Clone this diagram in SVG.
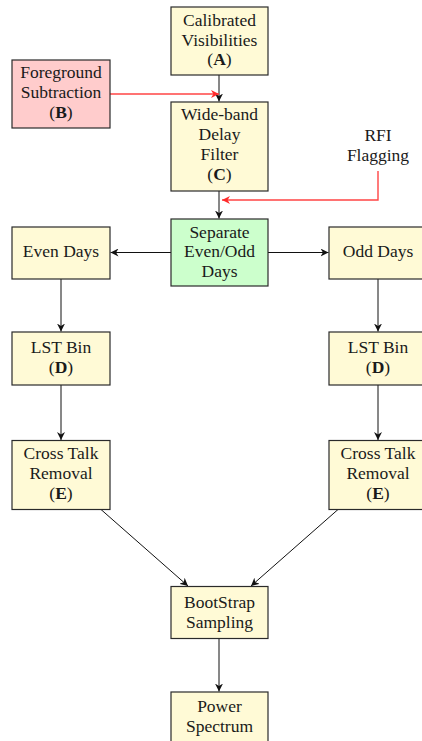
<svg xmlns="http://www.w3.org/2000/svg" width="422" height="741" viewBox="0 0 422 741" font-family="'Liberation Serif', 'DejaVu Serif', serif">
<defs>
<marker id="ah" viewBox="0 0 10 10" refX="10" refY="5" markerWidth="8" markerHeight="8" markerUnits="userSpaceOnUse" orient="auto">
<path d="M0,0 L10,5 L0,10 L3,5 Z" fill="#111"/>
</marker>
<marker id="ahr" viewBox="0 0 10 10" refX="10" refY="5" markerWidth="8" markerHeight="8" markerUnits="userSpaceOnUse" orient="auto">
<path d="M0,0 L10,5 L0,10 L3,5 Z" fill="#ff2a2a"/>
</marker>
</defs>
<style>
rect{stroke:#2a2a2a;stroke-width:1.2}
.y{fill:#fffad6}
.p{fill:#ffcccc}
.g{fill:#ccffcc}
text{font-family:'Liberation Serif','DejaVu Serif',serif;font-size:17.5px;fill:#1a1a1a;text-anchor:middle}
.b{font-weight:bold}
.k{fill:none;stroke:#111;stroke-width:1}
.r{fill:none;stroke:#ff4444;stroke-width:1.4}
</style>
<g id="connectors">
<path class="k" d="M219,75 V101.5" marker-end="url(#ah)"/>
<path class="r" d="M110,94 H219" marker-end="url(#ahr)"/>
<path class="k" d="M219,191 V218.5" marker-end="url(#ah)"/>
<path class="r" d="M378,171 V200 H222" marker-end="url(#ahr)"/>
<path class="k" d="M171,252.5 H110.5" marker-end="url(#ah)"/>
<path class="k" d="M268,252.5 H328.5" marker-end="url(#ah)"/>
<path class="k" d="M61,279 V331.5" marker-end="url(#ah)"/>
<path class="k" d="M378,279 V331.5" marker-end="url(#ah)"/>
<path class="k" d="M61,385 V440" marker-end="url(#ah)"/>
<path class="k" d="M378,385 V440" marker-end="url(#ah)"/>
<path class="k" d="M101,509.5 L188,586" marker-end="url(#ah)"/>
<path class="k" d="M338,509.5 L251,586" marker-end="url(#ah)"/>
<path class="k" d="M219,638.5 V691.5" marker-end="url(#ah)"/>
</g>
<g id="nodeA">
<rect class="y" x="171" y="7" width="97" height="68"/>
<text x="219.5" y="26">Calibrated</text>
<text x="219.5" y="45.5">Visibilities</text>
<text x="219.5" y="65">(<tspan class="b">A</tspan>)</text>
</g>
<g id="nodeB">
<rect class="p" x="12" y="60" width="98" height="68"/>
<text x="61" y="78">Foreground</text>
<text x="61" y="98">Subtraction</text>
<text x="61" y="118">(<tspan class="b">B</tspan>)</text>
</g>
<g id="nodeC">
<rect class="y" x="171" y="102" width="97" height="89"/>
<text x="219.5" y="120">Wide-band</text>
<text x="219.5" y="140">Delay</text>
<text x="219.5" y="160">Filter</text>
<text x="219.5" y="180">(<tspan class="b">C</tspan>)</text>
</g>
<g id="rfi">
<text x="378" y="140.5">RFI</text>
<text x="378" y="160.5">Flagging</text>
</g>
<g id="separate">
<rect class="g" x="171" y="219" width="97" height="67"/>
<text x="219.5" y="237.5">Separate</text>
<text x="219.5" y="257">Even/Odd</text>
<text x="219.5" y="277">Days</text>
</g>
<g id="even">
<rect class="y" x="12" y="227" width="98" height="52"/>
<text x="61" y="257">Even Days</text>
</g>
<g id="odd">
<rect class="y" x="329" y="227" width="98" height="52"/>
<text x="378" y="257">Odd Days</text>
</g>
<g id="lstL">
<rect class="y" x="12" y="332" width="98" height="53"/>
<text x="61" y="352.5">LST Bin</text>
<text x="61" y="372.5">(<tspan class="b">D</tspan>)</text>
</g>
<g id="lstR">
<rect class="y" x="329" y="332" width="98" height="53"/>
<text x="378" y="352.5">LST Bin</text>
<text x="378" y="372.5">(<tspan class="b">D</tspan>)</text>
</g>
<g id="ctL">
<rect class="y" x="12" y="440.5" width="98" height="69"/>
<text x="61" y="458.5">Cross Talk</text>
<text x="61" y="479">Removal</text>
<text x="61" y="499">(<tspan class="b">E</tspan>)</text>
</g>
<g id="ctR">
<rect class="y" x="329" y="440.5" width="98" height="69"/>
<text x="378" y="458.5">Cross Talk</text>
<text x="378" y="479">Removal</text>
<text x="378" y="499">(<tspan class="b">E</tspan>)</text>
</g>
<g id="boot">
<rect class="y" x="171" y="586.5" width="97" height="52"/>
<text x="219.5" y="608">BootStrap</text>
<text x="219.5" y="627.5">Sampling</text>
</g>
<g id="power">
<rect class="y" x="171" y="692" width="97" height="60"/>
<text x="219.5" y="711.5">Power</text>
<text x="219.5" y="731.5">Spectrum</text>
</g>
</svg>
